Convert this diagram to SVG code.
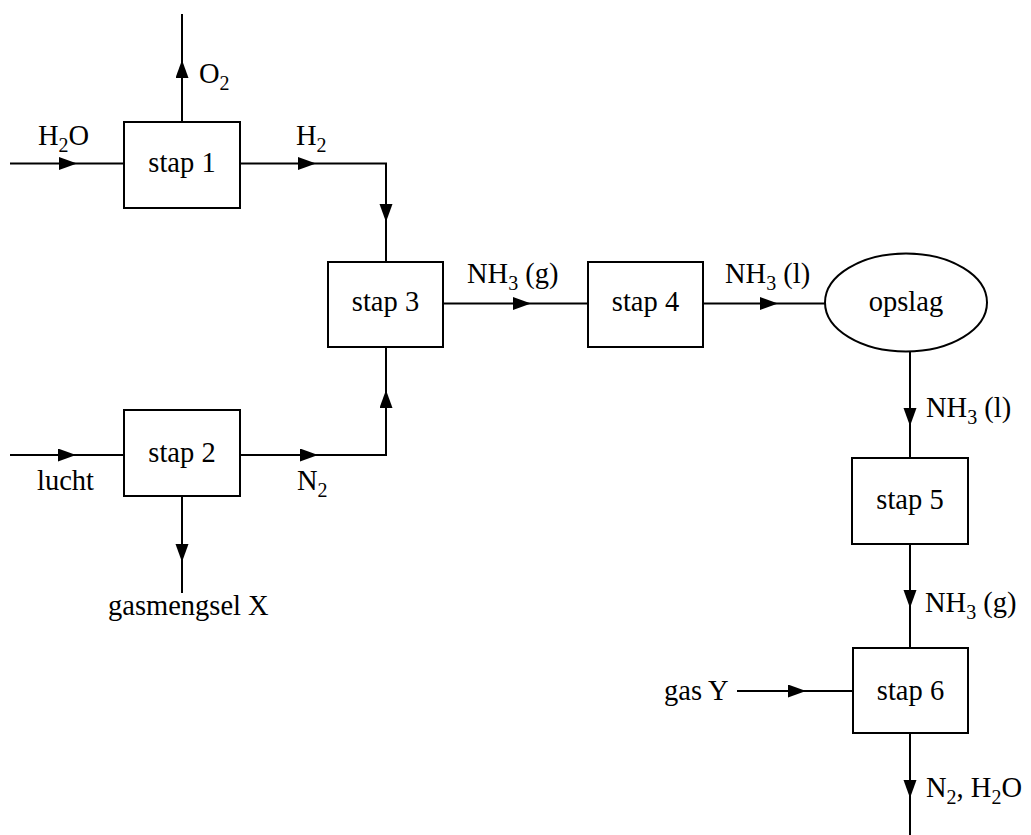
<svg xmlns="http://www.w3.org/2000/svg" width="1031" height="835" viewBox="0 0 1031 835">
<style>
.box{fill:#fff;stroke:#000;stroke-width:2}
.ln{fill:none;stroke:#000;stroke-width:2}
text{font-family:"Liberation Serif","Times New Roman",serif;font-size:28.5px;fill:#000}
.c{text-anchor:middle}
.sub{font-size:20px}
</style>
<defs>
<marker id="ah" markerUnits="userSpaceOnUse" markerWidth="19" markerHeight="14" refX="18" refY="6.5" orient="auto">
<path d="M0,0 L18,6.5 L0,13 z" fill="#000"/>
</marker>
</defs>
<rect width="1031" height="835" fill="#fff"/>
<g id="connectors">
<path class="ln" d="M10,163.5 H77" marker-end="url(#ah)"/>
<path class="ln" d="M77,163.5 H124"/>
<path class="ln" d="M182,122 V60" marker-end="url(#ah)"/>
<path class="ln" d="M182,60 V14"/>
<path class="ln" d="M240,163.5 H316" marker-end="url(#ah)"/>
<path class="ln" d="M316,163.5 H386 V222" marker-end="url(#ah)"/>
<path class="ln" d="M386,222 V262"/>
<path class="ln" d="M10,455 H76" marker-end="url(#ah)"/>
<path class="ln" d="M76,455 H124"/>
<path class="ln" d="M240,455 H318" marker-end="url(#ah)"/>
<path class="ln" d="M318,455 H386 V390" marker-end="url(#ah)"/>
<path class="ln" d="M386,390 V347"/>
<path class="ln" d="M182,496 V562" marker-end="url(#ah)"/>
<path class="ln" d="M182,562 V593"/>
<path class="ln" d="M443,303.5 H531" marker-end="url(#ah)"/>
<path class="ln" d="M531,303.5 H588"/>
<path class="ln" d="M703,303.5 H778" marker-end="url(#ah)"/>
<path class="ln" d="M778,303.5 H825"/>
<path class="ln" d="M910,351 V426" marker-end="url(#ah)"/>
<path class="ln" d="M910,426 V458"/>
<path class="ln" d="M910,544 V608" marker-end="url(#ah)"/>
<path class="ln" d="M910,608 V648"/>
<path class="ln" d="M737,691 H806" marker-end="url(#ah)"/>
<path class="ln" d="M806,691 H853"/>
<path class="ln" d="M910,733 V798" marker-end="url(#ah)"/>
<path class="ln" d="M910,798 V835"/>
</g>
<g id="labels">
<text x="38" y="145">H<tspan class="sub" dy="7">2</tspan><tspan dy="-7">O</tspan></text>
<text x="199" y="83">O<tspan class="sub" dy="7">2</tspan></text>
<text x="296" y="145">H<tspan class="sub" dy="7">2</tspan></text>
<text x="37" y="490">lucht</text>
<text x="297" y="490">N<tspan class="sub" dy="7">2</tspan></text>
<text x="108" y="615">gasmengsel X</text>
<text x="467" y="283">NH<tspan class="sub" dy="7">3</tspan><tspan dy="-7"> (g)</tspan></text>
<text x="725" y="283">NH<tspan class="sub" dy="7">3</tspan><tspan dy="-7"> (l)</tspan></text>
<text x="926" y="417">NH<tspan class="sub" dy="7">3</tspan><tspan dy="-7"> (l)</tspan></text>
<text x="925" y="612">NH<tspan class="sub" dy="7">3</tspan><tspan dy="-7"> (g)</tspan></text>
<text x="664" y="700">gas Y</text>
<text x="926" y="797">N<tspan class="sub" dy="7">2</tspan><tspan dy="-7">, H</tspan><tspan class="sub" dy="7">2</tspan><tspan dy="-7">O</tspan></text>
</g>
<g id="stap1"><rect class="box" x="124" y="122" width="116" height="86"/><text class="c" x="182" y="172">stap 1</text></g>
<g id="stap2"><rect class="box" x="124" y="410" width="116" height="86"/><text class="c" x="182" y="462">stap 2</text></g>
<g id="stap3"><rect class="box" x="328" y="262" width="115" height="85"/><text class="c" x="385.5" y="311">stap 3</text></g>
<g id="stap4"><rect class="box" x="588" y="262" width="115" height="85"/><text class="c" x="645.5" y="311">stap 4</text></g>
<g id="opslag"><ellipse class="box" cx="906" cy="302.5" rx="81" ry="49"/><text class="c" x="906" y="311">opslag</text></g>
<g id="stap5"><rect class="box" x="852" y="458" width="116" height="86"/><text class="c" x="910" y="509">stap 5</text></g>
<g id="stap6"><rect class="box" x="853" y="648" width="115" height="85"/><text class="c" x="910.5" y="700">stap 6</text></g>
</svg>
